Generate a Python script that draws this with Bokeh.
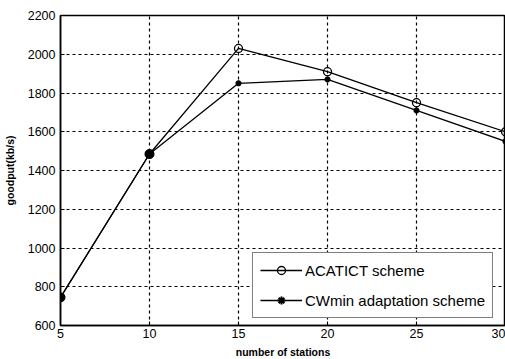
from bokeh.plotting import figure
from bokeh.embed import file_html
from bokeh.resources import INLINE
from bokeh.models import Legend, LegendItem, FixedTicker, Range1d

stations = [5, 10, 15, 20, 25, 30]
acatict = [745, 1485, 2030, 1910, 1750, 1600]
cwmin = [745, 1485, 1850, 1870, 1710, 1550]
y_ticks = [600, 800, 1000, 1200, 1400, 1600, 1800, 2000, 2200]
x_ticks = [5, 10, 15, 20, 25, 30]

p = figure(output_backend="svg", toolbar_location=None,
           frame_width=445, frame_height=310,
           min_border_left=60, min_border_top=15, min_border_right=0, min_border_bottom=10,
           x_range=Range1d(5, 30), y_range=Range1d(600, 2200))
p.background_fill_color = "white"
p.border_fill_color = "white"
p.outline_line_color = "black"
p.outline_line_width = 1.5

for ax in (p.xaxis[0], p.yaxis[0]):
    ax.axis_line_color = "black"
    ax.axis_line_width = 1.5
    ax.major_tick_in = 4
    ax.major_tick_out = 0
    ax.minor_tick_line_color = None
    ax.major_label_text_font = "Liberation Sans"
    ax.major_label_text_font_size = "12.5px"
    ax.major_label_text_color = "black"
    ax.axis_label_text_font = "Liberation Sans"
    ax.axis_label_text_font_size = "10.5px"
    ax.axis_label_text_font_style = "bold"
    ax.axis_label_text_color = "black"

p.xaxis.ticker = FixedTicker(ticks=x_ticks)
p.yaxis.ticker = FixedTicker(ticks=y_ticks)
p.xaxis.axis_label = "number of stations"
p.yaxis.axis_label = "goodput(kb/s)"
p.xaxis.axis_label_standoff = 5
p.yaxis.axis_label_standoff = 9
p.xaxis.major_label_standoff = 3
p.yaxis.major_label_standoff = 5

p.xgrid.grid_line_color = "black"
p.ygrid.grid_line_color = "black"
p.xgrid.grid_line_dash = "3 3"
p.ygrid.grid_line_dash = "3 3"
p.xgrid.grid_line_width = 1.2
p.ygrid.grid_line_width = 1.2

l1 = p.line(stations, acatict, line_color="black", line_width=1.3)
m1 = p.scatter(stations, acatict, marker="circle", size=8, fill_color=None,
               line_color="black", line_width=1.3)
l2 = p.line(stations, cwmin, line_color="black", line_width=1.3)
m2 = p.scatter(stations, cwmin, marker="asterisk", size=6,
               line_color="black", line_width=2)
m3 = p.scatter(stations[:2], cwmin[:2], marker="circle", size=9,
               fill_color="black", line_color="black")

legend = Legend(items=[LegendItem(label="ACATICT scheme", renderers=[l1, m1]),
                       LegendItem(label="CWmin adaptation scheme", renderers=[l2, m2])],
                location=(192, 7))
legend.border_line_color = "black"
legend.border_line_width = 1.5
legend.label_text_font = "Liberation Sans"
legend.label_text_font_size = "15px"
legend.label_text_color = "black"
legend.glyph_width = 42
legend.label_standoff = 3
legend.spacing = 10
legend.padding = 7
legend.margin = 0
legend.background_fill_alpha = 1
p.add_layout(legend, "center")

open("out.html", "w").write(file_html(p, INLINE))
